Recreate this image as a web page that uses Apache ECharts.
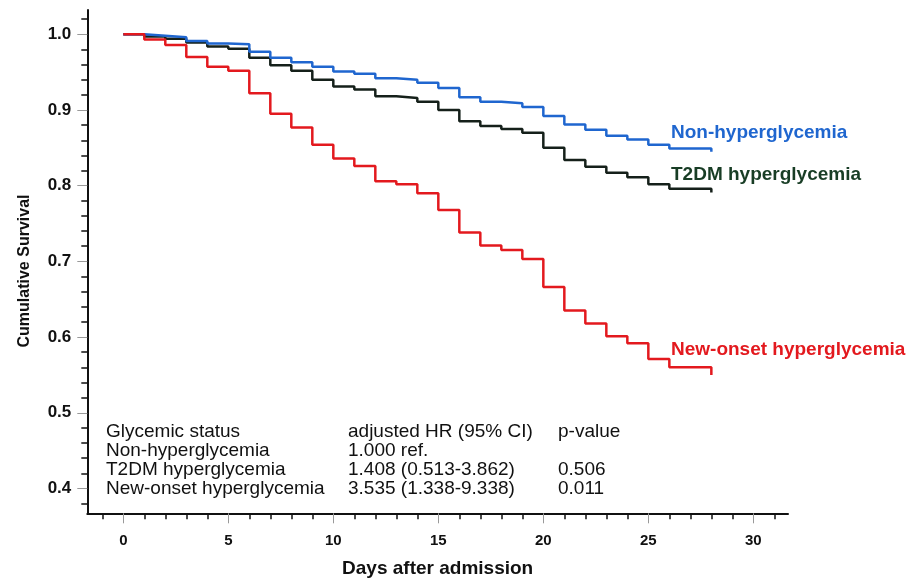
<!DOCTYPE html>
<html>
<head>
<meta charset="utf-8">
<script src="https://cdn.jsdelivr.net/npm/echarts@6/dist/echarts.min.js"></script>
<style>
  html, body { margin: 0; padding: 0; background: #fff; }
  #km { width: 922px; height: 586px; }
</style>
</head>
<body>
<div id="km"></div>
<script>
// days after admission (step positions)
const days = [0, 1, 2, 3, 4, 5, 6, 7, 8, 9, 10, 11, 12, 13, 14, 15, 16, 17, 18, 19, 20, 21, 22, 23, 24, 25, 26, 27, 28];

// cumulative survival per group
const nonHyper = [1.000, 0.998, 0.996, 0.991, 0.988, 0.987, 0.977, 0.969, 0.963, 0.957, 0.951, 0.948, 0.942, 0.940, 0.936,
  0.929, 0.917, 0.911, 0.909, 0.904, 0.892, 0.881, 0.874, 0.866, 0.861, 0.854, 0.849, 0.849, 0.845];
const t2dmHyper = [1.000, 0.997, 0.994, 0.989, 0.984, 0.981, 0.969, 0.959, 0.952, 0.940, 0.931, 0.927, 0.918, 0.916, 0.911,
  0.900, 0.885, 0.879, 0.875, 0.870, 0.850, 0.834, 0.825, 0.817, 0.811, 0.802, 0.796, 0.796, 0.791];
const newOnset = [1.000, 0.993, 0.986, 0.970, 0.957, 0.952, 0.922, 0.895, 0.877, 0.854, 0.836, 0.826, 0.806, 0.802, 0.790,
  0.768, 0.738, 0.721, 0.715, 0.703, 0.666, 0.635, 0.618, 0.601, 0.592, 0.571, 0.560, 0.560, 0.550];

// axis ticks
const dayTicks = [0, 5, 10, 15, 20, 25, 30];
const survivalTicks = [0.4, 0.5, 0.6, 0.7, 0.8, 0.9, 1.0];

// inset table
const tableGroups = ["Glycemic status", "Non-hyperglycemia", "T2DM hyperglycemia", "New-onset hyperglycemia"];
const tableHR = ["adjusted HR (95% CI)", "1.000 ref.", "1.408 (0.513-3.862)", "3.535 (1.338-9.338)"];
const tablePValues = ["p-value", "", "0.506", "0.011"];

// minor ticks: every day / every 0.02, skipping the major ones
const dayMinor = [];
for (let d = -1; d <= 31; d++) if (d % 5 !== 0) dayMinor.push(d);
const survMinor = [];
for (let k = 19; k <= 51; k++) if (k % 5 !== 0) survMinor.push(k / 50);

const FONT = '"Liberation Sans", Arial, sans-serif';
const X_MIN = -1.714, X_MAX = 31.65;
const Y_MIN = 0.3672, Y_MAX = 1.0321;

const toPairs = (vals) => days.map((d, i) => [d, vals[i]]);

const myChart = echarts.init(document.getElementById("km"));

const tableText = [];
const cols = [[tableGroups, 106], [tableHR, 348], [tablePValues, 558]];
const rowY = [431.7, 450.7, 470, 488.7];
cols.forEach(([col, x]) => {
  col.forEach((txt, r) => {
    if (!txt) return;
    tableText.push({
      type: "text", x: x, y: rowY[r], silent: true,
      style: { text: txt, font: "19px " + FONT, fill: "#111", verticalAlign: "middle" }
    });
  });
});

const curveLabels = [
  { text: "Non-hyperglycemia", y: 132.7, color: "#1f66cf" },
  { text: "T2DM hyperglycemia", y: 175, color: "#183d25" },
  { text: "New-onset hyperglycemia", y: 350, color: "#e3191e" }
].map((l) => ({
  type: "text", x: 671, y: l.y, silent: true,
  style: { text: l.text, font: "bold 19px " + FONT, fill: l.color, verticalAlign: "middle" }
}));

// y axis title sits a bit below the axis middle in the original
const yTitle = {
  type: "text", x: 25, y: 271, rotation: Math.PI / 2, silent: true,
  style: { text: "Cumulative Survival", font: "bold 16px " + FONT, fill: "#111", align: "center", verticalAlign: "middle" }
};

myChart.setOption({
  animation: false,
  backgroundColor: "#fff",
  grid: { left: 87.3, right: 134, top: 10, bottom: 72.7, containLabel: false },
  xAxis: [
    {
      type: "value", min: X_MIN, max: X_MAX, position: "bottom",
      axisLine: { onZero: false, lineStyle: { color: "#111", width: 2 } },
      axisTick: { customValues: dayTicks, length: 10, lineStyle: { color: "#999", width: 1 } },
      axisLabel: { customValues: dayTicks, fontSize: 15, fontWeight: "bold", color: "#111", fontFamily: FONT, margin: 20 },
      splitLine: { show: false },
      name: "Days after admission", nameLocation: "middle", nameGap: 46,
      nameTextStyle: { fontSize: 19, fontWeight: "bold", color: "#111", fontFamily: FONT }
    },
    {
      type: "value", min: X_MIN, max: X_MAX, position: "bottom",
      axisLine: { show: false, onZero: false },
      axisTick: { customValues: dayMinor, length: 6, lineStyle: { color: "#111", width: 1.5 } },
      axisLabel: { show: false },
      splitLine: { show: false }
    }
  ],
  yAxis: [
    {
      type: "value", min: Y_MIN, max: Y_MAX, position: "left",
      axisLine: { show: true, onZero: false, lineStyle: { color: "#111", width: 2 } },
      axisTick: { show: true, customValues: survivalTicks, length: 10, lineStyle: { color: "#999", width: 1 } },
      axisLabel: {
        customValues: survivalTicks, fontSize: 17, fontWeight: "bold", color: "#111", fontFamily: FONT, margin: 16,
        formatter: (v) => v.toFixed(1)
      },
      splitLine: { show: false }
    },
    {
      type: "value", min: Y_MIN, max: Y_MAX, position: "left",
      axisLine: { show: false, onZero: false },
      axisTick: { show: true, customValues: survMinor, length: 6, lineStyle: { color: "#111", width: 1.5 } },
      axisLabel: { show: false },
      splitLine: { show: false }
    }
  ],
  series: [
    {
      name: "T2DM hyperglycemia", type: "line", step: "end", showSymbol: false,
      data: toPairs(t2dmHyper), lineStyle: { color: "#15201a", width: 2.5 }, itemStyle: { color: "#15201a" }
    },
    {
      name: "Non-hyperglycemia", type: "line", step: "end", showSymbol: false,
      data: toPairs(nonHyper), lineStyle: { color: "#1f66cf", width: 2.5 }, itemStyle: { color: "#1f66cf" }
    },
    {
      name: "New-onset hyperglycemia", type: "line", step: "end", showSymbol: false,
      data: toPairs(newOnset), lineStyle: { color: "#e3191e", width: 2.5 }, itemStyle: { color: "#e3191e" }
    }
  ],
  graphic: tableText.concat(curveLabels, [yTitle])
});

window.onresize = function () {
  myChart.resize();
};
</script>
</body>
</html>
